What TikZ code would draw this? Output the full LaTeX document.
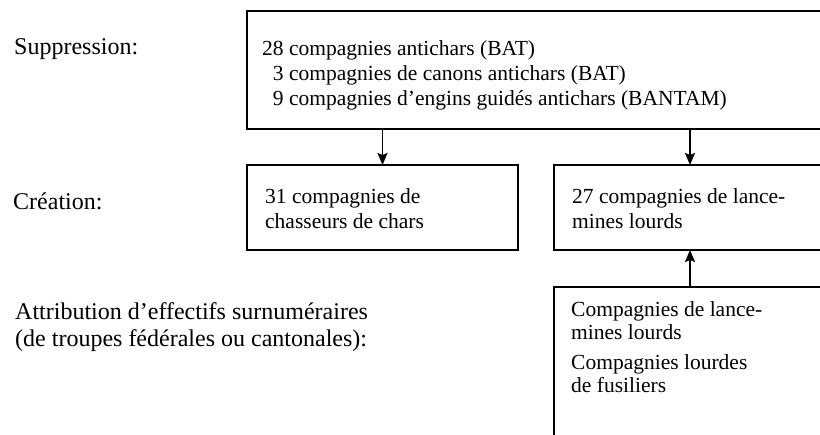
\documentclass[tikz,border=0pt]{standalone}
\usepackage{fontspec}
\setmainfont{Liberation Serif}
\usetikzlibrary{arrows.meta,calc}
\begin{document}
\begin{tikzpicture}[x=1pt,y=-1pt,
  box/.style={draw,line width=1.8pt,anchor=north west,inner sep=0pt,outer sep=0pt},
  boxtxt/.style={anchor=base west,inner sep=0pt,align=left,font=\fontsize{21.5}{25}\selectfont},
  boxtxtb/.style={boxtxt,font=\fontsize{21.5}{23}\selectfont},
  lbl/.style={anchor=base west,inner sep=0pt,align=left,font=\fontsize{24}{27}\selectfont},
  arr/.style={line width=1.8pt,-{Stealth[length=12pt,width=10pt,inset=2pt]}}]
\useasboundingbox (0,0) rectangle (820,435);
\clip (0,0) rectangle (820,435);
% boxes
\node[box,minimum width=620pt,minimum height=118pt] (supp) at (247,11) {};
\node[box,minimum width=271pt,minimum height=85pt] (chas) at (247,165) {};
\node[box,minimum width=272pt,minimum height=85pt] (lance) at (554,165) {};
\node[box,minimum width=272pt,minimum height=200pt] (attr) at (554,287) {};
% box texts (anchor = baseline of the last line)
\node[boxtxt] (supptxt) at (262,106) {28 compagnies antichars (BAT)\\\phantom{2}3 compagnies de canons antichars (BAT)\\\phantom{2}9 compagnies d’engins guidés antichars (BANTAM)};
\node[boxtxt] (chastxt) at (265,229) {31 compagnies de\\chasseurs de chars};
\node[boxtxt] (lancetxt) at (572,229) {27 compagnies de lance-\\mines lourds};
\node[boxtxtb] (attrtxta) at (571,340) {Compagnies de lance-\\mines lourds};
\node[boxtxtb] (attrtxtb) at (571,393) {Compagnies lourdes\\de fusiliers};
% labels
\node[lbl] (lsupp) at (14,55) {Suppression:};
\node[lbl] (lcrea) at (13,210) {Création:};
\node[lbl] (lattr) at (15,347) {Attribution d’effectifs surnuméraires\\(de troupes fédérales ou cantonales):};
% arrows
\draw[arr] (supp.south -| chas.north) -- (chas.north);
\draw[arr] (supp.south -| lance.north) -- (lance.north);
\draw[arr] (attr.north) -- (lance.south);
\end{tikzpicture}
\end{document}
